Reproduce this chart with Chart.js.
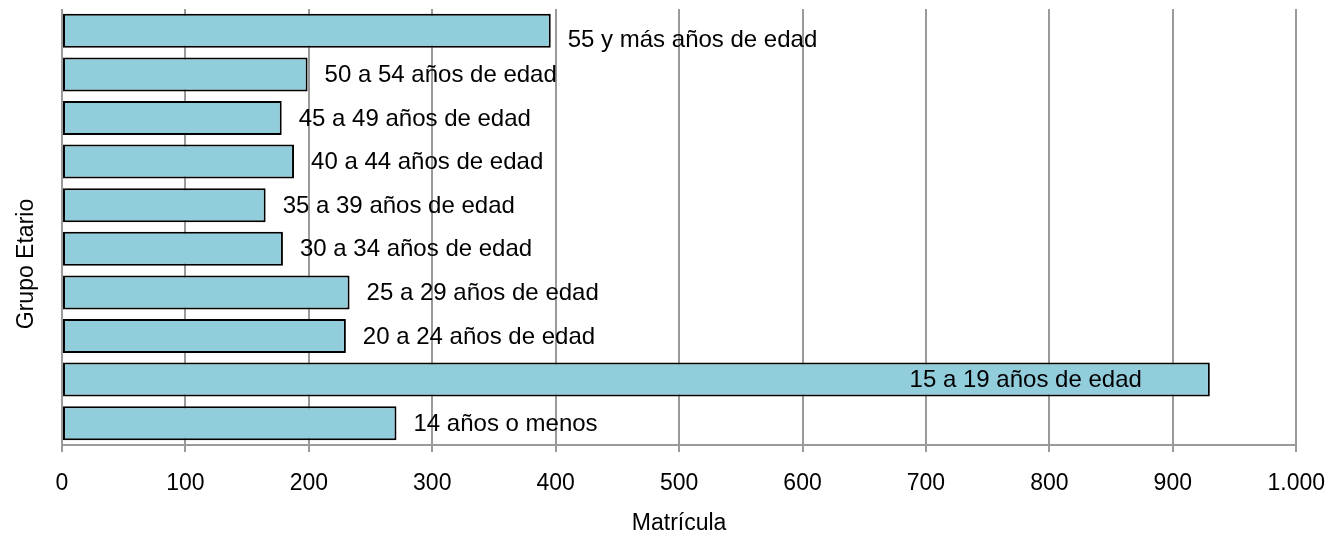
<!DOCTYPE html>
<html>
<head>
<meta charset="utf-8">
<script src="https://cdn.jsdelivr.net/npm/chart.js@4.4.1/dist/chart.umd.min.js"></script>
<style>
  html, body { margin: 0; padding: 0; background: #fff; }
  canvas { display: block; }
</style>
</head>
<body>
<canvas id="chart" width="1343" height="533"></canvas>
<script>
// age groups, top to bottom as shown
const groups = [
    "55 y más años de edad",
    "50 a 54 años de edad",
    "45 a 49 años de edad",
    "40 a 44 años de edad",
    "35 a 39 años de edad",
    "30 a 34 años de edad",
    "25 a 29 años de edad",
    "20 a 24 años de edad",
    "15 a 19 años de edad",
    "14 años o menos"
];
const matricula = [396, 199, 178, 188, 165, 179, 233, 230, 930, 271];
const tickLabels = ["0", "100", "200", "300", "400", "500", "600", "700", "800", "900", "1.000"];

const FONT = "'Liberation Sans', Arial, sans-serif";
const gridGray = "#9a9a9a";

// draws the group name next to each bar (or inside it when it would not fit)
const barLabels = {
    id: "barLabels",
    afterDatasetsDraw(chart) {
        const ctx = chart.ctx;
        const area = chart.chartArea;
        const meta = chart.getDatasetMeta(0);
        ctx.save();
        ctx.font = "24px " + FONT;
        ctx.fillStyle = "#000";
        ctx.textBaseline = "middle";
        meta.data.forEach((bar, i) => {
            const text = groups[i];
            const w = ctx.measureText(text).width;
            let dy = (i === 0) ? 10 : 1;
            if (bar.x + 17 + w > area.right) {
                ctx.textAlign = "right";
                ctx.fillText(text, bar.x - 68, bar.y + dy);
            } else {
                ctx.textAlign = "left";
                ctx.fillText(text, bar.x + 17, bar.y + dy);
            }
        });
        ctx.restore();
    }
};

// vertical axis title, centred on the whole picture like the original
const yTitle = {
    id: "yTitle",
    afterDraw(chart) {
        const ctx = chart.ctx;
        ctx.save();
        ctx.font = "23px " + FONT;
        ctx.fillStyle = "#000";
        ctx.textAlign = "center";
        ctx.textBaseline = "middle";
        ctx.translate(27, 264);
        ctx.rotate(-Math.PI / 2);
        ctx.fillText("Grupo Etario", 0, 0);
        ctx.restore();
    }
};

new Chart(document.getElementById("chart"), {
    type: "bar",
    data: {
        labels: groups,
        datasets: [{
            label: "Matrícula",
            data: matricula,
            backgroundColor: "#92cddc",
            borderColor: "#000",
            borderWidth: 2,
            borderSkipped: false,
            categoryPercentage: 1,
            barPercentage: 0.78
        }]
    },
    options: {
        indexAxis: "y",
        responsive: false,
        animation: false,
        devicePixelRatio: 1,
        layout: { padding: { top: 9, right: 44, bottom: 0, left: 0 } },
        plugins: {
            legend: { display: false },
            tooltip: { enabled: false }
        },
        scales: {
            x: {
                min: 0,
                max: 1000,
                afterFit(scale) { scale.height = 88; },
                ticks: {
                    stepSize: 100,
                    color: "#000",
                    font: { family: FONT, size: 23 },
                    padding: 18,
                    maxRotation: 0,
                    callback: (v, i) => tickLabels[i]
                },
                grid: {
                    color: gridGray,
                    lineWidth: 2,
                    tickLength: 7
                },
                border: { color: gridGray, width: 2 },
                title: {
                    display: true,
                    text: "Matrícula",
                    color: "#000",
                    font: { family: FONT, size: 23, lineHeight: 0.75 },
                    padding: { top: 0, bottom: 1 }
                }
            },
            y: {
                afterFit(scale) { scale.width = 62; },
                ticks: { display: false },
                grid: { display: false },
                border: { display: false }
            }
        }
    },
    plugins: [barLabels, yTitle]
});
</script>
</body>
</html>
